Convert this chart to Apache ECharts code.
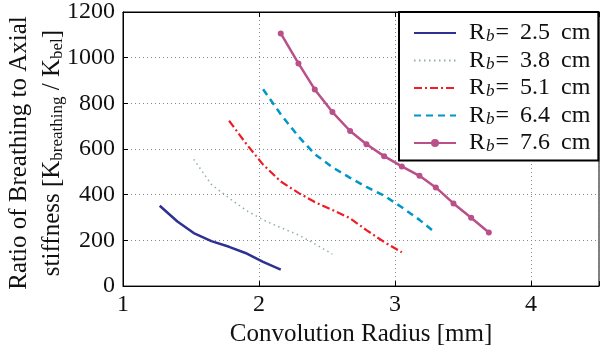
<!DOCTYPE html>
<html>
<head>
<meta charset="utf-8">
<script src="https://cdn.jsdelivr.net/npm/echarts@6/dist/echarts.min.js"></script>
<style>
  html, body { margin: 0; padding: 0; background: #fff; }
  #chart { width: 602px; height: 352px; }
</style>
</head>
<body>
<div id="chart"></div>
<script>
// Data
const xTicks = [1, 2, 3, 4];
const yTicks = [0, 200, 400, 600, 800, 1000, 1200];

const rb25X = [1.27, 1.40, 1.52, 1.65, 1.78, 1.90, 2.03, 2.16];
const rb25Y = [352, 283, 232, 197, 172, 145, 106, 72];

const rb38X = [1.52, 1.65, 1.78, 1.91, 2.03, 2.16, 2.29, 2.41, 2.54];
const rb38Y = [555, 445, 385, 330, 290, 256, 224, 185, 140];

const rb51X = [1.78, 1.91, 2.03, 2.16, 2.29, 2.41, 2.54, 2.67, 2.79, 2.92, 3.05];
const rb51Y = [724, 620, 532, 458, 408, 368, 333, 297, 245, 193, 148];

const rb64X = [2.03, 2.16, 2.29, 2.41, 2.54, 2.67, 2.79, 2.92, 3.05, 3.18, 3.30];
const rb64Y = [862, 752, 655, 578, 520, 474, 434, 396, 345, 290, 232];

const rb76X = [2.16, 2.29, 2.41, 2.54, 2.67, 2.79, 2.92, 3.05, 3.18, 3.30, 3.43, 3.56, 3.69];
const rb76Y = [1106, 975, 861, 762, 679, 621, 569, 524, 483, 432, 362, 299, 235];

const legendNames = ['2.5', '3.8', '5.1', '6.4', '7.6'];

const FONT = 'Liberation Serif';
const pairs = (xs, ys) => xs.map((x, i) => [x, ys[i]]);

const chart = echarts.init(document.getElementById('chart'));

function mkSeries(name, xs, ys, color, width, type, withSymbol) {
  return {
    name: name,
    type: 'line',
    data: pairs(xs, ys),
    symbol: withSymbol ? 'circle' : 'none',
    symbolSize: 6,
    showSymbol: withSymbol,
    itemStyle: { color: color },
    lineStyle: { color: color, width: width, type: type },
    animation: false
  };
}

// legend entries: hide the marker on the plain line series
const legendData = legendNames.map((n, i) => {
  const item = { name: 'R_b= ' + n + ' cm' };
  if (i < 4) item.itemStyle = { color: 'rgba(0,0,0,0)', borderWidth: 0, opacity: 0 };
  return item;
});

chart.setOption({
  animation: false,
  grid: { left: 123, top: 10, right: -2, bottom: 58, show: true, borderColor: '#000', borderWidth: 1 },
  xAxis: [{
    type: 'value', min: 1, max: 4.5, interval: 1,
    axisLine: { show: true, lineStyle: { color: '#000', width: 1 } },
    axisTick: { show: true, inside: true, length: 5, lineStyle: { color: '#000' } },
    axisLabel: {
      margin: 7, color: '#111', fontFamily: FONT, fontSize: 24,
      formatter: v => (xTicks.indexOf(v) >= 0 ? String(v) : '')
    },
    splitLine: { show: true, lineStyle: { color: '#888', type: [1, 3], width: 1 } },
    name: 'Convolution Radius [mm]', nameLocation: 'middle', nameGap: 19,
    nameTextStyle: { color: '#111', fontFamily: FONT, fontSize: 25 }
  }, {
    type: 'value', position: 'top', min: 1, max: 4.5, interval: 1,
    axisLine: { show: true, lineStyle: { color: '#000' } },
    axisTick: { show: true, inside: true, length: 5, lineStyle: { color: '#000' } },
    axisLabel: { show: false }, splitLine: { show: false }
  }],
  yAxis: {
    type: 'value', min: 0, max: 1200, interval: 200,
    axisLine: { show: true, lineStyle: { color: '#000', width: 1 } },
    axisTick: { show: true, inside: true, length: 5, lineStyle: { color: '#000' } },
    axisLabel: {
      margin: 8, color: '#111', fontFamily: FONT, fontSize: 24,
      formatter: v => (yTicks.indexOf(v) >= 0 ? String(v) : '')
    },
    splitLine: { show: true, lineStyle: { color: '#888', type: [1, 3], width: 1 } }
  },
  legend: {
    orient: 'vertical', left: 399, top: 12,
    backgroundColor: '#fff', borderColor: '#000', borderWidth: 2, borderRadius: 0,
    padding: [9, 8, 5, 14],
    itemWidth: 42, itemHeight: 10, itemGap: 3,
    data: legendData,
    formatter: name => '{r|R}{s|b}{r|=}{sp| }{r|' + name.slice(5, 8) + '}{sp| }{r|cm}',
    textStyle: {
      padding: [0, 0, 0, 8],
      rich: {
        r: { fontFamily: FONT, fontSize: 24, lineHeight: 25, color: '#111' },
        sp: { fontFamily: FONT, fontSize: 24, lineHeight: 25, width: 11 },
        s: { fontFamily: FONT, fontSize: 17, fontStyle: 'italic', lineHeight: 10, verticalAlign: 'bottom', color: '#111', padding: [0, 1, 0, 1] }
      }
    }
  },
  graphic: [
    {
      type: 'text', x: 19, y: 153, rotation: Math.PI / 2,
      style: {
        text: 'Ratio of Breathing to Axial', fill: '#111',
        font: '25px "Liberation Serif"', align: 'center', verticalAlign: 'middle'
      }
    },
    {
      type: 'text', x: 52, y: 153, rotation: Math.PI / 2,
      style: {
        text: '{r|stiffness [K}{s|breathing}{r| / K}{s|bel}{r|]}',
        align: 'center', verticalAlign: 'middle',
        rich: {
          r: { fontFamily: FONT, fontSize: 25, lineHeight: 28, fill: '#111' },
          s: { fontFamily: FONT, fontSize: 17, lineHeight: 12, verticalAlign: 'bottom', fill: '#111' }
        }
      }
    }
  ],
  series: [
    mkSeries('R_b= 2.5 cm', rb25X, rb25Y, '#2e3192', 2.5, 'solid', false),
    mkSeries('R_b= 3.8 cm', rb38X, rb38Y, '#8fb0a8', 1.5, [1.5, 3.5], false),
    mkSeries('R_b= 5.1 cm', rb51X, rb51Y, '#ee1c25', 2.2, [8, 3, 2, 3], false),
    mkSeries('R_b= 6.4 cm', rb64X, rb64Y, '#0096c8', 2.5, [7, 5], false),
    mkSeries('R_b= 7.6 cm', rb76X, rb76Y, '#b9508a', 2.5, 'solid', true)
  ]
});
</script>
</body>
</html>
